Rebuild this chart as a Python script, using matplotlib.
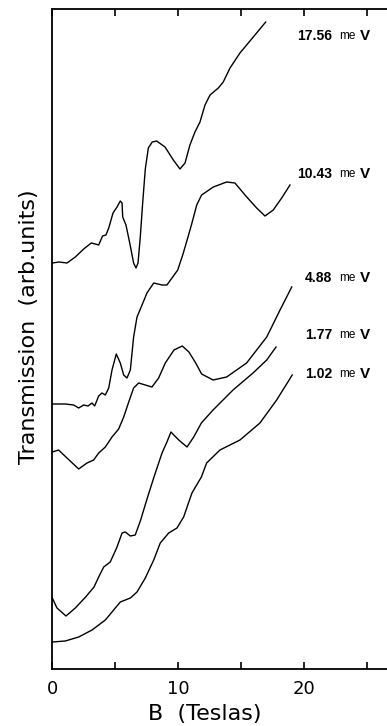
import matplotlib.pyplot as plt

# field B (Teslas) and transmission (arb. units)
b_1756 = [0, 0.53, 1.17, 1.83, 2.5, 3.1, 3.42, 3.69, 4.0, 4.27, 4.49, 4.83, 5.15,
          5.41, 5.55, 5.6, 5.86, 6.16, 6.47, 6.66, 6.82, 7.0, 7.19, 7.4, 7.64,
          7.95, 8.3, 8.97, 9.63, 10.16, 10.56, 10.95, 11.35, 11.75, 12.15, 12.55,
          13.21, 13.6, 14.14, 14.93, 15.99, 16.98]
t_1756 = [406, 407, 406, 412, 420, 426, 425, 424, 433, 434, 441, 456, 462,
          468, 466, 452, 444, 426, 406, 401, 406, 432, 466, 500, 521,
          527, 528, 522, 509, 500, 506, 524, 537, 547, 564, 574,
          581, 587, 601, 616, 632, 647]

b_1043 = [0, 1.03, 1.7, 2.1, 2.5, 2.84, 3.16, 3.37, 3.69, 3.95, 4.22, 4.49,
          4.75, 5.09, 5.41, 5.68, 5.94, 6.21, 6.47, 6.74, 7.14, 7.53, 8.07,
          8.73, 9.12, 9.52, 9.98, 10.4, 10.75, 11.09, 11.49, 11.88, 12.81,
          13.87, 14.53, 15.47, 16.26, 16.92, 17.58, 18.25, 18.91]
t_1043 = [265, 265, 264, 261, 264, 263, 266, 263, 273, 276, 274, 281,
          299, 315, 306, 294, 291, 299, 332, 352, 364, 376, 386,
          384, 384, 391, 399, 415, 430, 445, 464, 474, 482,
          487, 486, 472, 461, 453, 459, 471, 484]

b_488 = [0, 0.5, 1.17, 2.1, 2.76, 3.29, 3.69, 4.22, 4.75, 5.28, 5.68, 6.08,
         6.47, 6.87, 7.4, 7.93, 8.46, 8.99, 9.68, 10.34, 10.87, 11.41, 11.88,
         12.79, 13.87, 15.46, 17.06, 18.12, 19.05]
t_488 = [217, 219, 211, 200, 206, 209, 216, 222, 232, 240, 252, 267,
         281, 286, 284, 282, 291, 306, 319, 323, 317, 306, 295,
         289, 292, 306, 332, 359, 382]

b_177 = [0, 0.37, 1.09, 1.83, 2.65, 3.32, 3.69, 4.09, 4.61, 5.15, 5.55, 5.81,
         6.21, 6.6, 7.03, 7.56, 8.09, 8.73, 9.12, 9.44, 10.06, 10.72, 11.25,
         11.86, 12.79, 14.38, 15.97, 17.06, 17.8]
t_177 = [71, 61, 53, 61, 72, 82, 92, 102, 107, 122, 136, 137,
         133, 134, 149, 171, 192, 216, 227, 237, 229, 222, 232,
         246, 259, 279, 296, 309, 322]

b_102 = [0, 1.03, 2.1, 3.16, 4.22, 4.88, 5.41, 6.21, 6.74, 7.4, 8.07, 8.59,
         9.26, 9.92, 10.45, 11.11, 11.86, 12.28, 13.34, 14.93, 16.52, 17.85,
         19.09]
t_102 = [27, 28, 32, 39, 49, 59, 67, 71, 77, 91, 109, 126,
         136, 141, 152, 176, 192, 206, 219, 229, 246, 269, 294]

curves = [(b_1756, t_1756), (b_1043, t_1043), (b_488, t_488),
          (b_177, t_177), (b_102, t_102)]
energies = ["17.56", "10.43", "4.88", "1.77", "1.02"]
label_x = [19.47, 19.47, 20.1, 20.1, 20.1]
label_y = [633, 495, 391, 334, 295]

fig = plt.figure(figsize=(3.87, 7.26), dpi=100)
ax = fig.add_axes([52.3 / 387, 57 / 726, 1 - 52.3 / 387, 660 / 726])

for b, t in curves:
    ax.plot(b, t, color='black', lw=1.0, solid_joinstyle='round')

# energy labels, "17.56 meV" style with a small "me" and a bold "V"
for lab, x, y in zip(energies, label_x, label_y):
    ax.text(x, y, lab, fontsize=10, fontweight='bold', family='Liberation Sans',
            ha='left', va='center')
    ax.text(22.85, y, "me", fontsize=8.5, family='Liberation Sans',
            ha='left', va='center')
    ax.text(24.5, y, "V", fontsize=11, fontweight='bold',
            family='Liberation Sans', ha='left', va='center')

ax.set_xlim(0, 26.63)
ax.set_ylim(0, 660)

ax.spines['right'].set_visible(False)
for s in ['left', 'bottom', 'top']:
    ax.spines[s].set_linewidth(1.3)

ax.set_xticks([0, 5, 10, 15, 20, 25])
ax.set_xticklabels(["0", "", "10", "", "20", ""])
ax.tick_params(axis='x', direction='in', length=5, width=1.2, top=True,
               labelsize=13, pad=8)
ax.set_yticks([])

fig.text(205 / 387, 1 - 714 / 726, "B  (Teslas)", fontsize=16,
         ha='center', va='center')
fig.text(29 / 387, 1 - 327 / 726, "Transmission  (arb.units)", fontsize=16,
         rotation=90, ha='center', va='center')

fig.savefig("out.png", dpi=100)
